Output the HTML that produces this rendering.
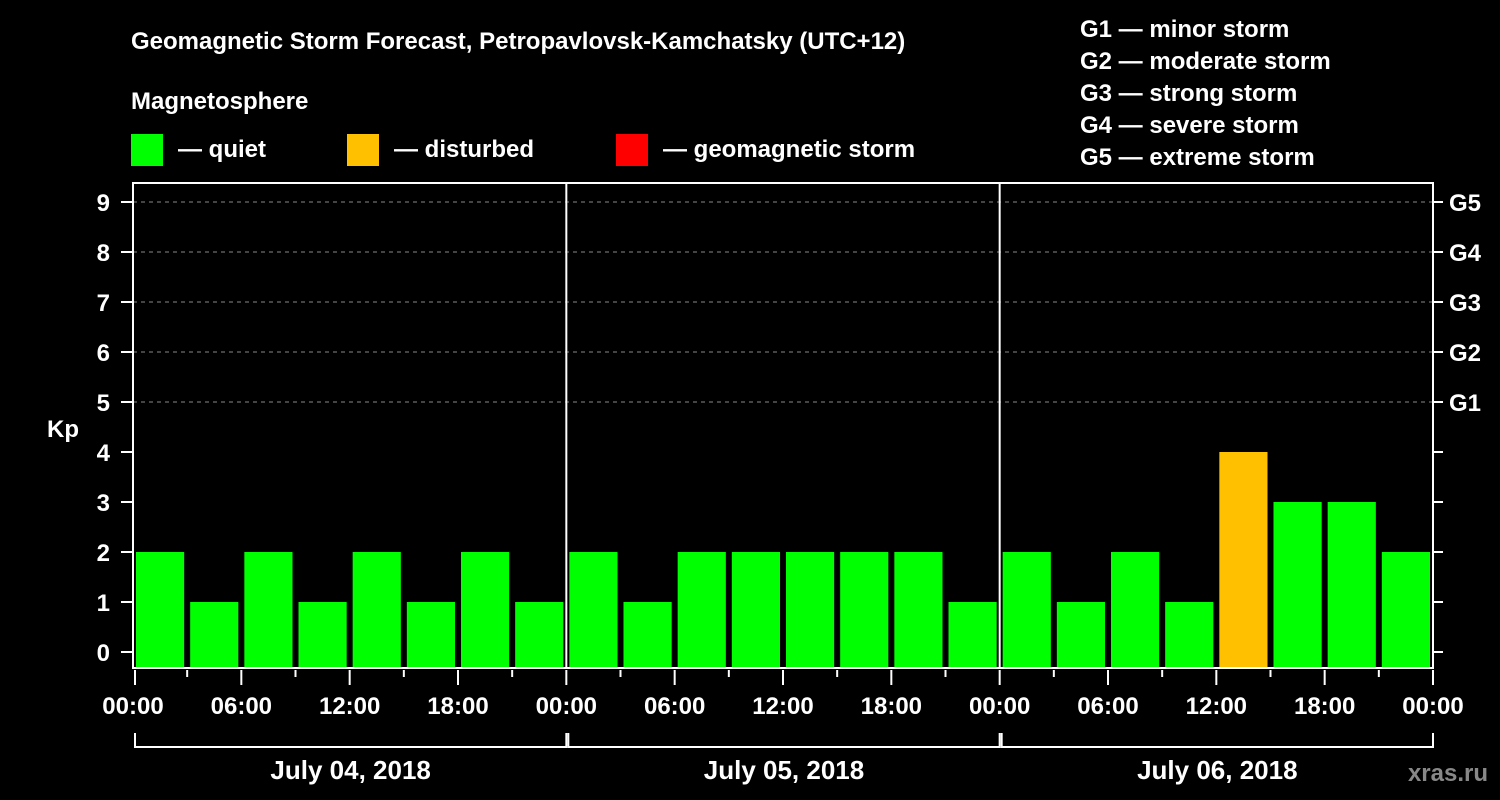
<!DOCTYPE html>
<html><head><meta charset="utf-8"><style>
html,body{margin:0;background:#000;}
svg{display:block;font-family:"Liberation Sans",Arial,sans-serif;font-weight:bold;}
</style></head><body>
<svg id="c" width="1500" height="800">
<text x="131" y="49" fill="#fff" font-size="24">Geomagnetic Storm Forecast, Petropavlovsk-Kamchatsky (UTC+12)</text>
<text x="131" y="109" fill="#fff" font-size="24">Magnetosphere</text>
<rect x="131" y="134" width="32" height="32" fill="#00ff00"/>
<text x="178" y="157" fill="#fff" font-size="24">— quiet</text>
<rect x="347" y="134" width="32" height="32" fill="#ffc000"/>
<text x="394" y="157" fill="#fff" font-size="24">— disturbed</text>
<rect x="616" y="134" width="32" height="32" fill="#ff0000"/>
<text x="663" y="157" fill="#fff" font-size="24">— geomagnetic storm</text>
<g fill="#fff" font-size="24">
<text x="1080" y="37">G1 — minor storm</text>
<text x="1080" y="69">G2 — moderate storm</text>
<text x="1080" y="101">G3 — strong storm</text>
<text x="1080" y="133">G4 — severe storm</text>
<text x="1080" y="165">G5 — extreme storm</text>
</g>
<text x="63" y="437" fill="#fff" font-size="24" text-anchor="middle">Kp</text>
<text x="1488" y="781" fill="#888" font-size="24" text-anchor="end">xras.ru</text>
<g id="plot"></g>
</svg>
<script>
const days = ["July 04, 2018","July 05, 2018","July 06, 2018"];
const kpValues = [2,1,2,1,2,1,2,1, 2,1,2,2,2,2,2,1, 2,1,2,1,4,3,3,2];
const yTicks = [0,1,2,3,4,5,6,7,8,9];
const gLabels = ["G1","G2","G3","G4","G5"];
const hourLabels = ["00:00","06:00","12:00","18:00"];

const NS="http://www.w3.org/2000/svg";
const g=document.getElementById("plot");
const L=133,R=1433,T=183,B=668;
const y=v=>652-v*50;
const slotW=(R-L)/kpValues.length;
const x=i=>L+i*slotW;
function mk(t,a,parent){const e=document.createElementNS(NS,t);for(const k in a)e.setAttribute(k,a[k]);(parent||g).appendChild(e);return e;}

gLabels.forEach((lab,i)=>{const v=5+i;
 const l=mk("line",{x1:L,x2:R,y1:y(v),y2:y(v),stroke:"#888","stroke-dasharray":"4,4","stroke-width":1});
 
 
 const t=mk("text",{x:1449,y:y(v)+9,fill:"#fff","font-size":24});t.textContent=lab;
 
 
});
kpValues.forEach((v,i)=>{
 const col=v>=5?"#ff0000":(v>=4?"#ffc000":"#00ff00");
 const r=mk("rect",{x:x(i)+3,y:y(v),width:slotW-6,height:B-y(v),fill:col});
 
 
});
yTicks.forEach(v=>{
 mk("line",{x1:121,x2:L,y1:y(v),y2:y(v),stroke:"#fff","stroke-width":2});
 mk("line",{x1:R,x2:1443,y1:y(v),y2:y(v),stroke:"#fff","stroke-width":2});
 const t=mk("text",{x:110,y:y(v)+9,fill:"#fff","font-size":24,"text-anchor":"end"});t.textContent=v;
 
 
});
const fr=mk("rect",{x:L,y:T,width:R-L,height:B-T,fill:"none",stroke:"#fff","stroke-width":2});


const dayW=(R-L)/days.length;
for(let d=1;d<days.length;d++) mk("line",{x1:L+d*dayW,x2:L+d*dayW,y1:T,y2:B,stroke:"#fff","stroke-width":2});
const perDay=kpValues.length/days.length;
for(let i=0;i<=kpValues.length;i++){
 const xx=x(i)+(i===0?2:0);
 const major=i%2===0;
 mk("line",{x1:xx,x2:xx,y1:B+2,y2:major?685:677,stroke:"#fff","stroke-width":2});
 if(major){const t=mk("text",{x:x(i),y:714,fill:"#fff","font-size":24,"text-anchor":"middle"});
  t.textContent=hourLabels[(i/2)%hourLabels.length];
  
  }
}
days.forEach((d,k)=>{
 const a=L+k*dayW+2,b=L+(k+1)*dayW;
 mk("polyline",{points:`${a},733 ${a},747 ${b},747 ${b},733`,fill:"none",stroke:"#fff","stroke-width":2});
 const t=mk("text",{x:(a+b)/2,y:779,fill:"#fff","font-size":26,"text-anchor":"middle"});t.textContent=d;
 
 
});
</script>
</body></html>
